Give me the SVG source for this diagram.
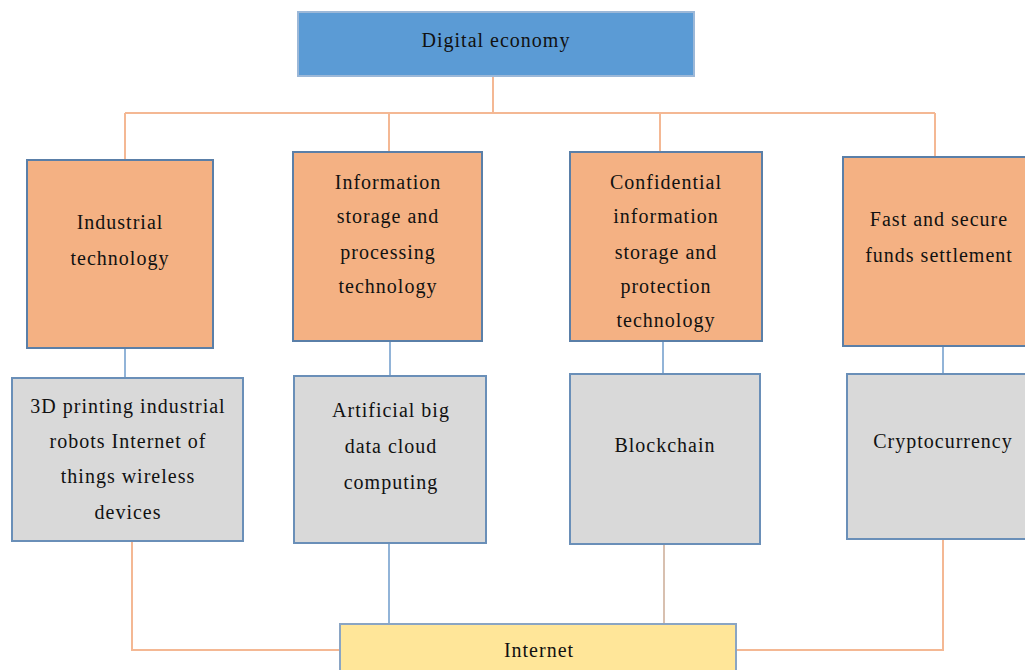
<svg xmlns="http://www.w3.org/2000/svg" width="1025" height="670" viewBox="0 0 1025 670">
<style>
text{font-family:"Liberation Serif","Times New Roman",serif;font-size:20px;fill:#111;text-anchor:middle;letter-spacing:1px}
.top{fill:#5b9bd5;stroke:#9cb8d8;stroke-width:2}
.or{fill:#f4b183;stroke:#5a7fa8;stroke-width:2}
.gr{fill:#d9d9d9;stroke:#6a8fb8;stroke-width:2}
.inet{fill:#ffe699;stroke:#8aa5c4;stroke-width:2}
.c1{fill:none;stroke:#f4b894;stroke-width:2}
.c2{fill:none;stroke:#92b4d8;stroke-width:2}
.c3{fill:none;stroke:#d8c0b0;stroke-width:2}
.bg{fill:#fff}
</style>
<rect class="bg" x="0" y="0" width="1025" height="670"/>
<g id="connectors">
<path class="c1" d="M493 76V113M125 113H935M125 113V159M389 113V152M660 113V152M935 113V157"/>
<path class="c2" d="M125 348V378M390 341V376M663 341V374M943 346V374"/>
<path class="c1" d="M132 537V650H340"/>
<path class="c2" d="M389 543V624"/>
<path class="c3" d="M664 544V624"/>
<path class="c1" d="M943 539V650H736"/>
</g>
<g id="digital-economy">
<rect class="top" x="298" y="12" width="396" height="64"/>
<text x="496" y="47">Digital economy</text>
</g>
<g id="industrial-technology">
<rect class="or" x="27" y="160" width="186" height="188"/>
<text x="120" y="229">Industrial</text>
<text x="120" y="265">technology</text>
</g>
<g id="info-storage">
<rect class="or" x="293" y="152" width="189" height="189"/>
<text x="388" y="189">Information</text>
<text x="388" y="223">storage and</text>
<text x="388" y="259">processing</text>
<text x="388" y="293">technology</text>
</g>
<g id="confidential">
<rect class="or" x="570" y="152" width="192" height="189"/>
<text x="666" y="189">Confidential</text>
<text x="666" y="223">information</text>
<text x="666" y="259">storage and</text>
<text x="666" y="293">protection</text>
<text x="666" y="327">technology</text>
</g>
<g id="funds-settlement">
<rect class="or" x="843" y="157" width="190" height="189"/>
<text x="939" y="226">Fast and secure</text>
<text x="939" y="262">funds settlement</text>
</g>
<g id="iot">
<rect class="gr" x="12" y="378" width="231" height="163"/>
<text x="128" y="413">3D printing industrial</text>
<text x="128" y="448">robots Internet of</text>
<text x="128" y="483">things wireless</text>
<text x="128" y="519">devices</text>
</g>
<g id="ai-cloud">
<rect class="gr" x="294" y="376" width="192" height="167"/>
<text x="391" y="417">Artificial big</text>
<text x="391" y="453">data cloud</text>
<text x="391" y="489">computing</text>
</g>
<g id="blockchain">
<rect class="gr" x="570" y="374" width="190" height="170"/>
<text x="665" y="452">Blockchain</text>
</g>
<g id="cryptocurrency">
<rect class="gr" x="847" y="374" width="190" height="165"/>
<text x="943" y="448">Cryptocurrency</text>
</g>
<g id="internet">
<rect class="inet" x="340" y="624" width="396" height="56"/>
<text x="539" y="657">Internet</text>
</g>
</svg>
